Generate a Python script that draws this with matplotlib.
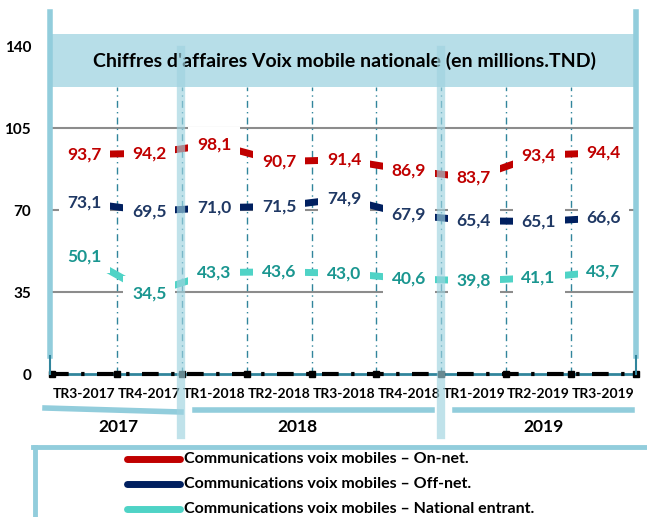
import matplotlib.pyplot as plt
from matplotlib.lines import Line2D
from matplotlib.patches import Rectangle

plt.rcParams['font.family'] = ['Lato', 'DejaVu Sans']

quarters = ['TR3-2017', 'TR4-2017', 'TR1-2018', 'TR2-2018', 'TR3-2018',
            'TR4-2018', 'TR1-2019', 'TR2-2019', 'TR3-2019']
years = ['2017', '2018', '2019']
on_net = [93.7, 94.2, 98.1, 90.7, 91.4, 86.9, 83.7, 93.4, 94.4]
off_net = [73.1, 69.5, 71.0, 71.5, 74.9, 67.9, 65.4, 65.1, 66.6]
national = [50.1, 34.5, 43.3, 43.6, 43.0, 40.6, 39.8, 41.1, 43.7]
yticks = [0, 35, 70, 105, 140]

series = [
    (on_net, '#C00000', '#C00000', 'Communications voix mobiles \u2013 On-net.'),
    (off_net, '#002060', '#1F3864', 'Communications voix mobiles \u2013 Off-net.'),
    (national, '#4FD3C6', '#1A9690', 'Communications voix mobiles \u2013 National entrant.'),
]

W, H = 647, 517
fig = plt.figure(figsize=(W / 100, H / 100), dpi=100)
ax = fig.add_axes([52 / W, 1 - 374 / H, 584 / W, 328 / H])


def px(x, y):
    # pixel coords (from top-left) -> figure fraction
    return x / W, 1 - y / H


def fline(xs, ys, **kw):
    fx = [x / W for x in xs]
    fy = [1 - y / H for y in ys]
    fig.add_artist(Line2D(fx, fy, transform=fig.transFigure, **kw))


n = len(quarters)
x = list(range(n))
ax.set_xlim(-0.5, n - 0.5)
ax.set_ylim(0, 140)

# grid lines
for t in yticks[1:4]:
    ax.axhline(t, color='#8C8C8C', lw=1.5, zorder=1)

# dash-dot separators between quarters
for i in range(n - 1):
    ax.axvline(i + 0.5, ymax=(374 - 87) / 328, color='#31859C', lw=1,
               linestyle=(0, (5, 3, 1, 3)), zorder=1)

# series lines + labels with white boxes that hide most of the line
for vals, col, tcol, lab in series:
    ax.plot(x, vals, color=col, lw=5, solid_capstyle='butt', zorder=2)
    for xi, v in zip(x, vals):
        ax.text(xi, v, f'{v:.1f}'.replace('.', ','), ha='center', va='center',
                fontsize=12.5, fontweight='bold', color=tcol, zorder=3,
                bbox=dict(boxstyle='square,pad=0.5', fc='white', ec='none'))

# bottom axis
ax.axhline(0, color='#31859C', lw=2, zorder=4, clip_on=False)
ax.axhline(0, color='black', lw=3, linestyle=(0, (4, 3, 0.8, 3)), zorder=5, clip_on=False)
ax.plot([i + 0.5 for i in range(-1, n)], [0] * (n + 1), 's', color='black', ms=4,
        zorder=6, clip_on=False)

ax.set_xticks(x)
ax.set_xticklabels(quarters, fontsize=10, fontweight='bold')
ax.tick_params(axis='x', length=0, pad=10)
ax.set_yticks(yticks)
ax.set_yticklabels([str(t) for t in yticks], fontsize=11, fontweight='bold')
ax.tick_params(axis='y', length=0, pad=15)
for s in ax.spines.values():
    s.set_visible(False)

# title band
fig.add_artist(Rectangle(px(52, 87), 582 / W, 53 / H, transform=fig.transFigure,
                         fc='#B7DEE8', ec='none', zorder=5))
fig.text(*px(344, 61), "Chiffres d'affaires Voix mobile nationale (en millions.TND)",
         ha='center', va='center', fontsize=14, fontweight='bold', zorder=6)

# frame bars
fline([50, 50], [12, 356], color='#92CDDC', lw=4, zorder=7)
fline([50, 50], [356, 374], color='#31859C', lw=1.5, zorder=7)
fline([636, 636], [12, 356], color='#92CDDC', lw=4, zorder=7)
fline([636, 636], [356, 374], color='#31859C', lw=1.5, zorder=7)
for bx in (181, 441):
    fline([bx, bx], [50, 435], color='#9FD3E0', lw=6, alpha=0.65, zorder=8)

# year bars and labels
fline([45, 181], [408, 412], color='#92CDDC', lw=4, zorder=7)
fline([195, 432], [410, 410], color='#92CDDC', lw=4, zorder=7)
fline([455, 632], [410, 410], color='#92CDDC', lw=4, zorder=7)
for yr, xc in zip(years, (118, 297, 543)):
    fig.text(*px(xc, 427), yr, ha='center', va='center', fontsize=12.5,
             fontweight='bold')

# legend
fline([33, 647], [447, 447], color='#92CDDC', lw=3.5, zorder=7)
fline([35, 35], [447, 517], color='#92CDDC', lw=3.5, zorder=7)
for k, (vals, col, tcol, lab) in enumerate(series):
    yy = 459 + 25 * k
    fline([127, 180], [yy, yy], color=col, lw=5, solid_capstyle='round', zorder=7)
    fig.text(*px(184, yy), lab, ha='left', va='center', fontsize=11.5, fontweight='bold')

fig.savefig('out.png', dpi=100)
